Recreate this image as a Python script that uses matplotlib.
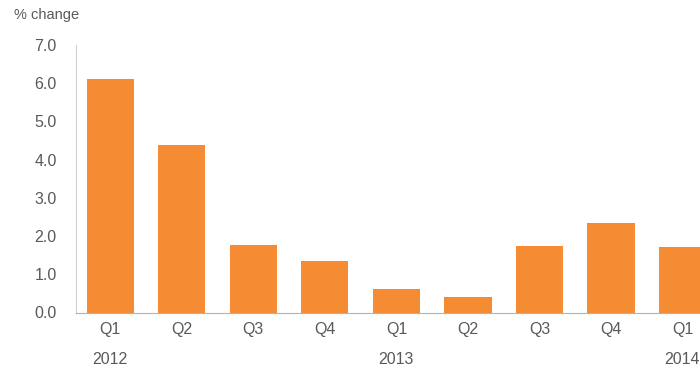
import matplotlib
matplotlib.use("Agg")
import matplotlib.pyplot as plt
import matplotlib.transforms as mtransforms

# quarterly % change values
quarters = ["Q1", "Q2", "Q3", "Q4", "Q1", "Q2", "Q3", "Q4", "Q1"]
values = [6.11, 4.38, 1.76, 1.36, 0.62, 0.41, 1.74, 2.33, 1.71]
years = ["2012", "2013", "2014"]
year_positions = [0, 4, 8]

orange = "#F58B32"
text_grey = "#595959"

plt.rcParams["font.family"] = ["Liberation Sans", "DejaVu Sans"]

fig = plt.figure(figsize=(7.0, 3.72), dpi=100)
ax = fig.add_axes([76 / 700, 1 - 312.5 / 372, 1 - 76 / 700, (312.5 - 45) / 372])

x = list(range(len(values)))
ax.bar(x, values, width=0.66, color=orange, zorder=2)

ax.set_xlim(-0.48, 8.245)
ax.set_ylim(0, 7.0)
ax.set_yticks([0, 1, 2, 3, 4, 5, 6, 7])
ax.set_yticklabels([f"{v:.1f}" for v in range(8)])
ax.set_xticks(x)
ax.set_xticklabels(quarters)

for side in ["top", "right"]:
    ax.spines[side].set_visible(False)
ax.spines["left"].set_color("#d0d0d0")
ax.spines["bottom"].set_color("#a9b3c4")
ax.tick_params(axis="both", length=0, labelsize=11.5, colors=text_grey)
ax.tick_params(axis="y", pad=14)
ax.tick_params(axis="x", pad=7)

# year labels under the first quarter of each year
trans = mtransforms.blended_transform_factory(ax.transData, fig.transFigure)
for pos, yr in zip(year_positions, years):
    ax.text(pos, 1 - 360 / 372, yr, transform=trans, ha="center", va="center",
            fontsize=11.5, color=text_grey, clip_on=False)

fig.text(14 / 700, 1 - 15 / 372, "% change", ha="left", va="center",
         fontsize=10.5, color=text_grey)

fig.savefig("out.png", dpi=100)
